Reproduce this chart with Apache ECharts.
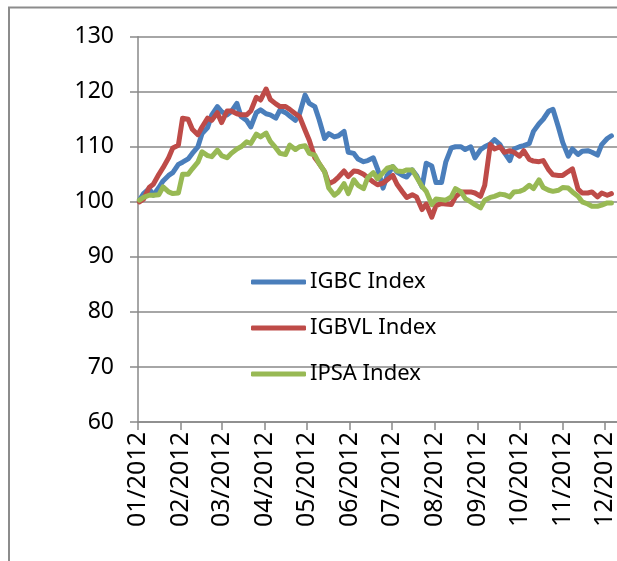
<!DOCTYPE html>
<html>
<head>
<meta charset="utf-8">
<script src="https://cdn.jsdelivr.net/npm/echarts@6/dist/echarts.min.js"></script>
<style>
html,body{margin:0;padding:0;background:#fff;}
#chart{width:617px;height:561px;}
</style>
</head>
<body>
<div id="chart"></div>
<script>
// Observation dates (Mon/Thu sampling)
const dates = [
'2012-01-02','2012-01-05','2012-01-09','2012-01-12','2012-01-16','2012-01-19','2012-01-23','2012-01-26','2012-01-30',
'2012-02-02','2012-02-06','2012-02-09','2012-02-13','2012-02-16','2012-02-20','2012-02-23','2012-02-27',
'2012-03-01','2012-03-05','2012-03-08','2012-03-12','2012-03-15','2012-03-19','2012-03-22','2012-03-26','2012-03-29',
'2012-04-02','2012-04-05','2012-04-09','2012-04-12','2012-04-16','2012-04-19','2012-04-23','2012-04-26','2012-04-30',
'2012-05-03','2012-05-07','2012-05-10','2012-05-14','2012-05-17','2012-05-21','2012-05-24','2012-05-28','2012-05-31',
'2012-06-04','2012-06-07','2012-06-11','2012-06-14','2012-06-18','2012-06-21','2012-06-25','2012-06-28',
'2012-07-02','2012-07-05','2012-07-09','2012-07-12','2012-07-16','2012-07-19','2012-07-23','2012-07-26','2012-07-30',
'2012-08-02','2012-08-06','2012-08-09','2012-08-13','2012-08-16','2012-08-20','2012-08-23','2012-08-27','2012-08-30',
'2012-09-03','2012-09-06','2012-09-10','2012-09-13','2012-09-17','2012-09-20','2012-09-24','2012-09-27',
'2012-10-01','2012-10-04','2012-10-08','2012-10-11','2012-10-15','2012-10-18','2012-10-22','2012-10-25','2012-10-29',
'2012-11-01','2012-11-05','2012-11-08','2012-11-12','2012-11-15','2012-11-19','2012-11-22','2012-11-26','2012-11-29',
'2012-12-03','2012-12-06'
];
const igbc = [
100.3,101.5,102.4,101.2,102.6,103.8,104.8,105.3,106.8,
107.2,107.8,108.8,110.0,112.4,113.5,115.8,117.3,
116.4,115.8,116.4,117.9,115.5,114.8,113.6,116.2,116.7,
116.0,115.8,115.2,116.7,116.2,115.6,114.8,116.0,119.4,
117.9,117.3,115.0,111.5,112.4,111.8,112.0,112.8,109.0,
108.8,107.8,107.3,107.5,108.0,106.0,102.5,104.8,
106.4,105.4,104.8,104.5,105.8,104.8,102.7,107.0,106.5,
103.5,103.5,107.2,109.8,110.0,110.0,109.5,110.0,108.0,
109.5,110.0,110.5,111.3,110.4,109.0,107.5,109.6,
110.0,110.2,110.6,112.8,114.2,115.0,116.5,116.8,113.5,
110.8,108.3,109.6,108.6,109.2,109.3,109.0,108.5,110.4,
111.5,112.0
];
const igbvl = [
100.0,100.5,102.6,103.2,105.0,106.2,108.0,109.8,110.3,
115.2,115.0,113.2,112.2,113.6,115.2,114.8,116.2,
114.4,116.5,116.5,116.0,115.8,115.8,116.5,119.0,118.5,
120.5,118.6,117.8,117.3,117.3,116.8,116.0,115.5,113.0,
111.2,108.0,107.0,105.5,103.3,103.8,104.5,105.6,104.6,
105.6,105.5,105.0,104.4,103.6,103.1,103.4,104.0,
104.8,103.2,101.8,100.8,101.3,100.9,98.6,99.6,97.2,
99.3,99.7,99.6,99.5,100.9,101.8,101.8,101.8,101.6,
101.0,103.0,110.4,109.6,110.0,109.0,109.3,109.0,
108.3,109.3,107.7,107.4,107.3,107.5,105.8,104.9,104.8,
104.8,105.5,106.0,102.3,101.6,101.6,101.8,100.9,101.6,
101.2,101.5
];
const ipsa = [
100.3,100.8,101.2,101.2,101.3,102.7,101.8,101.5,101.6,
105.0,105.0,106.0,107.2,109.1,108.4,108.2,109.4,
108.4,108.0,108.8,109.6,110.0,110.9,110.6,112.3,111.8,
112.5,111.0,109.8,108.8,108.6,110.3,109.5,110.0,110.2,
108.8,108.5,107.0,105.5,102.5,101.2,101.8,103.3,101.5,
104.0,103.0,102.4,104.4,105.3,104.2,105.3,106.1,
106.4,105.6,105.5,105.8,105.8,104.5,102.8,101.9,99.5,
100.5,100.4,100.3,100.9,102.4,101.8,100.6,100.0,99.5,
98.9,100.3,100.8,101.0,101.4,101.3,100.9,101.8,
101.9,102.2,103.0,102.4,104.0,102.6,102.1,101.9,102.1,
102.6,102.5,101.8,101.0,100.0,99.6,99.2,99.2,99.4,
99.8,99.8
];
const seriesNames = ['IGBC Index','IGBVL Index','IPSA Index'];
const monthTicks = ['2012-01-01','2012-02-01','2012-03-01','2012-04-01','2012-05-01','2012-06-01',
  '2012-07-01','2012-08-01','2012-09-01','2012-10-01','2012-11-01','2012-12-01'];
const tickLabels = ['01/2012','02/2012','03/2012','04/2012','05/2012','06/2012',
  '07/2012','08/2012','09/2012','10/2012','11/2012','12/2012'];

function ts(s){ const p = s.split('-').map(Number); return Date.UTC(p[0], p[1]-1, p[2]); }
const tickValues = monthTicks.map(ts);
const labelMap = {};
tickValues.forEach((v,i)=>{ labelMap[v] = tickLabels[i]; });

function pairs(vals){ return dates.map((d,i)=>[ts(d), vals[i]]); }

const FONT = 'Noto Sans';
const GRAY = '#898989';
const colors = ['#4A7EBB','#BE4B48','#98B954'];

const chart = echarts.init(document.getElementById('chart'), null, {renderer:'canvas'});
const lineStyle = (c)=>({color:c, width:5, cap:'round', join:'round'});
chart.setOption({
  animation:false,
  backgroundColor:'#fff',
  color: colors,
  textStyle:{fontFamily:FONT},
  graphic:[{type:'rect', shape:{x:9, y:7.5, width:700, height:700}, style:{fill:null, stroke:'#8c8c8c', lineWidth:2}, silent:true, z:-1}],
  grid:{left:138, top:36.7, right:-10, bottom:139, containLabel:false},
  legend:{
    orient:'vertical', left:251, top:268, padding:0,
    icon:'roundRect',
    itemWidth:55, itemHeight:5, itemGap:18,
    textStyle:{fontFamily:FONT, fontSize:22, color:'#000', lineHeight:28, padding:[0,0,0,-1]},
    data: seriesNames
  },
  xAxis:{
    type:'value', min: ts('2012-01-01'), max: ts('2012-12-10'),
    axisLine:{show:true, lineStyle:{color:GRAY, width:1.5}},
    axisTick:{show:true, length:8, customValues: tickValues, lineStyle:{color:GRAY, width:1.5}},
    axisLabel:{
      customValues: tickValues, rotate:90, margin:10,
      fontFamily:FONT, fontSize:25, color:'#000',
      formatter:(v)=> labelMap[v] || ''
    },
    splitLine:{show:false}
  },
  yAxis:{
    type:'value', min:60, max:130, interval:10,
    axisLine:{show:true, lineStyle:{color:GRAY, width:1.5}},
    axisTick:{show:true, length:8, lineStyle:{color:GRAY, width:1.5}},
    axisLabel:{fontFamily:FONT, fontSize:23, color:'#000', margin:24},
    splitLine:{show:true, lineStyle:{color:GRAY, width:1.5}}
  },
  series:[
    {name:seriesNames[0], type:'line', data:pairs(igbc), showSymbol:false, symbol:'none', lineStyle:lineStyle(colors[0])},
    {name:seriesNames[1], type:'line', data:pairs(igbvl), showSymbol:false, symbol:'none', lineStyle:lineStyle(colors[1])},
    {name:seriesNames[2], type:'line', data:pairs(ipsa), showSymbol:false, symbol:'none', lineStyle:lineStyle(colors[2])}
  ]
});
</script>
</body>
</html>
